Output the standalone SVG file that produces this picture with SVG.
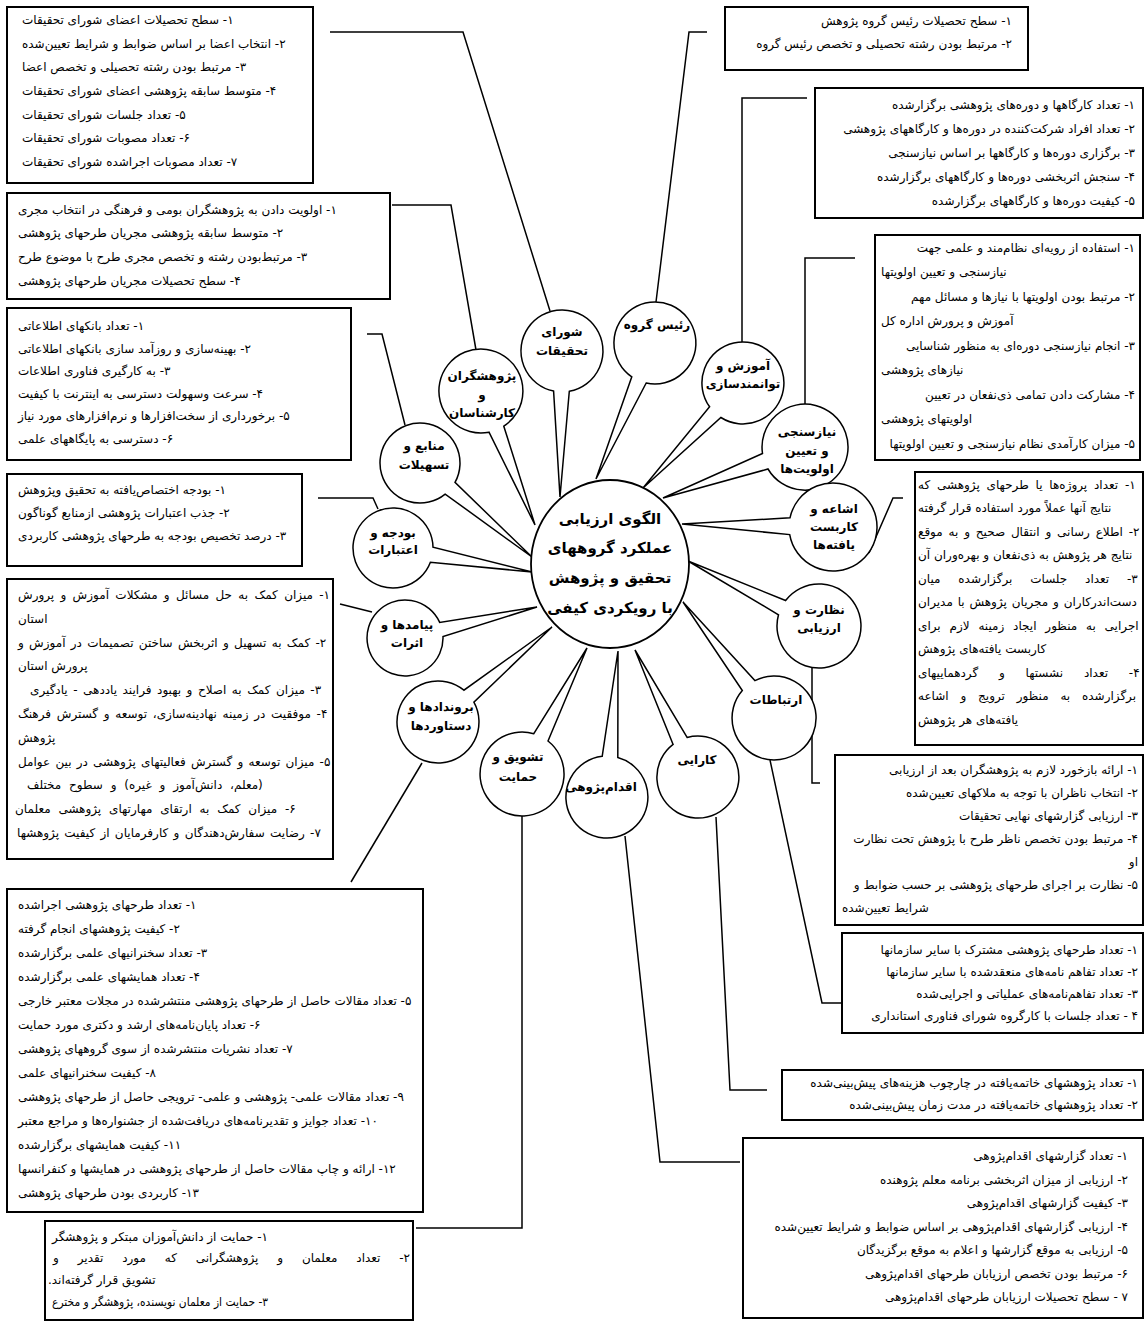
<svg xmlns="http://www.w3.org/2000/svg" width="1145" height="1328" viewBox="0 0 1145 1328">
<style>
.box{fill:#fff;stroke:#000;stroke-width:2}
.k{fill:none;stroke:#000;stroke-width:1.5}
.c{fill:#fff;stroke:#000;stroke-width:1.5}
.t{font-family:'DejaVu Sans',sans-serif;font-size:12px;fill:#000;direction:rtl}
.r{text-anchor:start}
.l{text-anchor:end}
.n{font-family:'DejaVu Sans',sans-serif;font-size:12px;font-weight:bold;text-anchor:middle;direction:rtl}
.m{font-family:'DejaVu Sans',sans-serif;font-size:15px;font-weight:bold;text-anchor:middle;direction:rtl}
</style>
<rect width="1145" height="1328" fill="#fff"/>
<g id="connectors">
<polyline class="k" points="330,32 463,32 550,311"/>
<polyline class="k" points="707,32 689,32 656,302"/>
<polyline class="k" points="392,205 451,205 476,350"/>
<polyline class="k" points="807,98 742,98 742,342"/>
<polyline class="k" points="367,334 382,334 405,425"/>
<polyline class="k" points="855,258 805,258 805,404"/>
<polyline class="k" points="318,498 373,498 378,509"/>
<polyline class="k" points="869,553 893,498 903,498"/>
<polyline class="k" points="340,604 372,612"/>
<polyline class="k" points="422,763 351,882"/>
<polyline class="k" points="522,816 522,1228 416,1228"/>
<polyline class="k" points="625,836 660,1162 740,1162"/>
<polyline class="k" points="716,817 730,1090 767,1090"/>
<polyline class="k" points="770,760 822,1003 842,1003"/>
<polyline class="k" points="812,667 812,783 820,783"/>
</g>
<g id="box-shora">
<rect class="box" x="7" y="7" width="306" height="176"/>
<text class="t l" x="22" y="24">۱- سطح تحصیلات اعضای شورای تحقیقات</text>
<text class="t l" x="22" y="48">۲- انتخاب اعضا بر اساس ضوابط و شرایط تعیین&#8204;شده</text>
<text class="t l" x="22" y="71">۳- مرتبط بودن رشته تحصیلی و تخصص اعضا</text>
<text class="t l" x="22" y="95">۴- متوسط سابقه پژوهشی اعضای شورای تحقیقات</text>
<text class="t l" x="22" y="119">۵- تعداد جلسات شورای تحقیقات</text>
<text class="t l" x="22" y="142">۶- تعداد مصوبات شورای تحقیقات</text>
<text class="t l" x="22" y="166">۷- تعداد مصوبات اجراشده شورای تحقیقات</text>
</g>
<g id="box-pazhooheshgaran">
<rect class="box" x="7" y="193" width="383" height="106"/>
<text class="t l" x="18" y="214">۱- اولویت دادن به پژوهشگران بومی و فرهنگی در انتخاب مجری</text>
<text class="t l" x="18" y="237">۲- متوسط سابقه پژوهشی مجریان طرحهای پژوهشی</text>
<text class="t l" x="18" y="261">۳- مرتبط&#8204;بودن رشته و تخصص مجری طرح با موضوع طرح</text>
<text class="t l" x="18" y="285">۴- سطح تحصیلات مجریان طرحهای پژوهشی</text>
</g>
<g id="box-manabe">
<rect class="box" x="7" y="308" width="344" height="152"/>
<text class="t l" x="18" y="330">۱- تعداد بانکهای اطلاعاتی</text>
<text class="t l" x="18" y="353">۲- بهینه&#8204;سازی و روزآمد سازی بانکهای اطلاعاتی</text>
<text class="t l" x="18" y="375">۳- به کارگیری فناوری اطلاعات</text>
<text class="t l" x="18" y="398">۴- سرعت وسهولت دسترسی به اینترنت با کیفیت</text>
<text class="t l" x="18" y="420">۵- برخورداری از سخت&#8204;افزارها و نرم&#8204;افزارهای مورد نیاز</text>
<text class="t l" x="18" y="443">۶- دسترسی به پایگاههای علمی</text>
</g>
<g id="box-budje">
<rect class="box" x="7" y="474" width="295" height="92"/>
<text class="t l" x="18" y="494">۱- بودجه اختصاص&#8204;یافته به تحقیق وپژوهش</text>
<text class="t l" x="18" y="517">۲- جذب اعتبارات پژوهشی ازمنابع گوناگون</text>
<text class="t l" x="18" y="540">۳- درصد تخصیص بودجه به طرحهای پژوهشی کاربردی</text>
</g>
<g id="box-payamad">
<rect class="box" x="7" y="579" width="326" height="280"/>
<text class="t l" x="18" y="599" style="word-spacing:2.5px">۱- میزان کمک به حل مسائل و مشکلات آموزش و پرورش</text>
<text class="t l" x="18" y="623">استان</text>
<text class="t l" x="18" y="647" style="word-spacing:1.5px">۲- کمک به تسهیل و اثربخش ساختن تصمیمات در آموزش و</text>
<text class="t l" x="18" y="670">پرورش استان</text>
<text class="t l" x="30" y="694" style="word-spacing:1.7px">۳- میزان کمک به اصلاح و بهبود فرایند یاددهی - یادگیری</text>
<text class="t l" x="18" y="718" style="word-spacing:1.9px">۴- موفقیت در زمینه نهادینه&#8204;سازی، توسعه و گسترش فرهنگ</text>
<text class="t l" x="18" y="742">پژوهش</text>
<text class="t l" x="18" y="766" style="word-spacing:1.4px">۵- میزان توسعه و گسترش فعالیتهای پژوهشی در بین عوامل</text>
<text class="t l" x="27" y="789" style="word-spacing:4px">(معلم، دانش&#8204;آموز و غیره) و سطوح مختلف</text>
<text class="t l" x="15" y="813" style="word-spacing:4px">۶- میزان کمک به ارتقای مهارتهای پژوهشی معلمان</text>
<text class="t l" x="17" y="837" style="word-spacing:1.5px">۷- رضایت سفارش&#8204;دهندگان و کارفرمایان از کیفیت پژوهشها</text>
</g>
<g id="box-borondad">
<rect class="box" x="7" y="889" width="416" height="323"/>
<text class="t l" x="18" y="909">۱- تعداد طرحهای پژوهشی اجراشده</text>
<text class="t l" x="18" y="933">۲- کیفیت پژوهشهای انجام گرفته</text>
<text class="t l" x="18" y="957">۳- تعداد سخنرانیهای علمی برگزارشده</text>
<text class="t l" x="18" y="981">۴- تعداد همایشهای علمی برگزارشده</text>
<text class="t l" x="18" y="1005">۵- تعداد مقالات حاصل از طرحهای پژوهشی منتشرشده در مجلات معتبر خارجی</text>
<text class="t l" x="18" y="1029">۶- تعداد پایان&#8204;نامه&#8204;های ارشد و دکتری مورد حمایت</text>
<text class="t l" x="18" y="1053">۷- تعداد نشریات منتشرشده از سوی گروههای پژوهشی</text>
<text class="t l" x="18" y="1077">۸- کیفیت سخنرانیهای علمی</text>
<text class="t l" x="18" y="1101">۹- تعداد مقالات علمی- پژوهشی و علمی- ترویجی حاصل از طرحهای پژوهشی</text>
<text class="t l" x="18" y="1125">۱۰- تعداد جوایز و تقدیرنامه&#8204;های دریافت&#8204;شده از جشنواره&#8204;ها و مراجع معتبر</text>
<text class="t l" x="18" y="1149">۱۱- کیفیت همایشهای برگزارشده</text>
<text class="t l" x="18" y="1173">۱۲- ارائه و چاپ مقالات حاصل از طرحهای پژوهشی در همایشها و کنفرانسها</text>
<text class="t l" x="18" y="1197">۱۳- کاربردی بودن طرحهای پژوهشی</text>
</g>
<g id="box-tashvigh">
<rect class="box" x="45" y="1221" width="368" height="99"/>
<text class="t r" x="268" y="1241">۱- حمایت از دانش&#8204;آموزان مبتکر و پژوهشگر</text>
<text class="t r" x="410" y="1262" style="word-spacing:15px">۲- تعداد معلمان و پژوهشگرانی که مورد تقدیر و</text>
<text class="t l" x="48" y="1284">تشویق قرار گرفته&#8204;اند.</text>
<text class="t l" x="52" y="1306" textLength="216" lengthAdjust="spacingAndGlyphs">۳- حمایت از معلمان نویسنده، پژوهشگر و مخترع</text>
</g>
<g id="box-raees">
<rect class="box" x="725" y="7" width="303" height="63"/>
<text class="t r" x="1012" y="25">۱- سطح تحصیلات رئیس گروه پژوهش</text>
<text class="t r" x="1012" y="48">۲- مرتبط بودن رشته تحصیلی و تخصص رئیس گروه</text>
</g>
<g id="box-amoozesh">
<rect class="box" x="815" y="88" width="328" height="130"/>
<text class="t r" x="1135" y="109">۱- تعداد کارگاهها و دوره&#8204;های پژوهشی برگزارشده</text>
<text class="t r" x="1135" y="133">۲- تعداد افراد شرکت&#8204;کننده در دوره&#8204;ها و کارگاههای پژوهشی</text>
<text class="t r" x="1135" y="157">۳- برگزاری دوره&#8204;ها و کارگاهها بر اساس نیازسنجی</text>
<text class="t r" x="1135" y="181">۴- سنجش اثربخشی دوره&#8204;ها و کارگاههای برگزارشده</text>
<text class="t r" x="1135" y="205">۵- کیفیت دوره&#8204;ها و کارگاههای برگزارشده</text>
</g>
<g id="box-niazsanji">
<rect class="box" x="875" y="235" width="265" height="225"/>
<text class="t r" x="1135" y="252">۱- استفاده از رویه&#8204;ای نظام&#8204;مند و علمی جهت</text>
<text class="t l" x="881" y="276">نیازسنجی و تعیین اولویتها</text>
<text class="t r" x="1135" y="301">۲- مرتبط بودن اولویتها با نیازها و مسائل مهم</text>
<text class="t l" x="881" y="325">آموزش و پرورش اداره کل</text>
<text class="t r" x="1135" y="350">۳- انجام نیازسنجی دوره&#8204;ای به منظور شناسایی</text>
<text class="t l" x="881" y="374">نیازهای پژوهشی</text>
<text class="t r" x="1135" y="399">۴- مشارکت دادن تمامی ذی&#8204;نفعان در تعیین</text>
<text class="t l" x="881" y="423">اولویتهای پژوهشی</text>
<text class="t r" x="1135" y="448">۵- میزان کارآمدی نظام نیازسنجی و تعیین اولویتها</text>
</g>
<g id="box-eshae">
<rect class="box" x="915" y="472" width="228" height="273"/>
<text class="t l" x="918" y="489" style="word-spacing:3px">۱- تعداد پروژه&#8204;ها یا طرحهای پژوهشی که</text>
<text class="t l" x="918" y="512">نتایج آنها عملاً مورد استفاده قرار گرفته</text>
<text class="t l" x="918" y="536" style="word-spacing:2px">۲- اطلاع رسانی و انتقال صحیح و به موقع</text>
<text class="t l" x="918" y="559">نتایج هر پژوهش به ذی&#8204;نفعان و بهره&#8204;وران آن</text>
<text class="t l" x="918" y="583" style="word-spacing:14px">۳- تعداد جلسات برگزارشده میان</text>
<text class="t l" x="918" y="606" style="word-spacing:1px">دست&#8204;اندرکاران و مجریان پژوهش با مدیران</text>
<text class="t l" x="918" y="630" style="word-spacing:5px">اجرایی به منظور ایجاد زمینه لازم برای</text>
<text class="t l" x="918" y="653">کاربست یافته&#8204;های پژوهش</text>
<text class="t l" x="918" y="677" style="word-spacing:17px">۴- تعداد نشستها و گردهماییهای</text>
<text class="t l" x="918" y="700" style="word-spacing:8px">برگزارشده به منظور ترویج و اشاعه</text>
<text class="t l" x="918" y="724">یافته&#8204;های هر پژوهش</text>
</g>
<g id="box-nezarat">
<rect class="box" x="835" y="755" width="308" height="170"/>
<text class="t r" x="1138" y="774">۱- ارائه بازخورد لازم به پژوهشگران بعد از ارزیابی</text>
<text class="t r" x="1138" y="797">۲- انتخاب ناظران با توجه به ملاکهای تعیین&#8204;شده</text>
<text class="t r" x="1138" y="820">۳- ارزیابی گزارشهای نهایی تحقیقات</text>
<text class="t r" x="1138" y="843">۴- مرتبط بودن تخصص ناظر طرح با پژوهش تحت نظارت</text>
<text class="t r" x="1138" y="866">او</text>
<text class="t r" x="1138" y="889">۵- نظارت بر اجرای طرحهای پژوهشی بر حسب ضوابط و</text>
<text class="t l" x="842" y="912">شرایط تعیین&#8204;شده</text>
</g>
<g id="box-ertebatat">
<rect class="box" x="842" y="933" width="301" height="100"/>
<text class="t r" x="1138" y="954">۱- تعداد طرحهای پژوهشی مشترک با سایر سازمانها</text>
<text class="t r" x="1138" y="976">۲- تعداد تفاهم نامه&#8204;های منعقدشده با سایر سازمانها</text>
<text class="t r" x="1138" y="998">۳- تعداد تفاهم&#8204;نامه&#8204;های عملیاتی و اجرایی&#8204;شده</text>
<text class="t r" x="1138" y="1020">۴ - تعداد جلسات با کارگروه شورای فناوری استانداری</text>
</g>
<g id="box-karaee">
<rect class="box" x="782" y="1070" width="361" height="50"/>
<text class="t r" x="1138" y="1087">۱- تعداد پژوهشهای خاتمه&#8204;یافته در چارچوب هزینه&#8204;های پیش&#8204;بینی&#8204;شده</text>
<text class="t r" x="1138" y="1109">۲- تعداد پژوهشهای خاتمه&#8204;یافته در مدت زمان پیش&#8204;بینی&#8204;شده</text>
</g>
<g id="box-eghdam">
<rect class="box" x="743" y="1138" width="400" height="180"/>
<text class="t r" x="1128" y="1160">۱- تعداد گزارشهای اقدام&#8204;پژوهی</text>
<text class="t r" x="1128" y="1184">۲- ارزیابی از میزان اثربخشی برنامه معلم پژوهنده</text>
<text class="t r" x="1128" y="1207">۳- کیفیت گزارشهای اقدام&#8204;پژوهی</text>
<text class="t r" x="1128" y="1231">۴- ارزیابی گزارشهای اقدام&#8204;پژوهی بر اساس ضوابط و شرایط تعیین&#8204;شده</text>
<text class="t r" x="1128" y="1254">۵- ارزیابی به موقع گزارشها و اعلام به موقع برگزیدگان</text>
<text class="t r" x="1128" y="1278">۶- مرتبط بودن تخصص ارزیابان طرحهای اقدام&#8204;پژوهی</text>
<text class="t r" x="1128" y="1301">۷ - سطح تحصیلات ارزیابان طرحهای اقدام&#8204;پژوهی</text>
</g>
<g id="node-shora">
<path class="c" d="M569.3,391.3 A41,41 0 1 0 553.6,391.1 L560,497 Z"/>
<text class="n" x="562" y="336">شورای</text>
<text class="n" x="562" y="355">تحقیقات</text>
</g>
<g id="node-raees">
<path class="c" d="M646.2,383 A41,41 0 1 0 631.8,376.8 L596,479 Z"/>
<text class="n" x="657" y="329">رئیس گروه</text>
</g>
<g id="node-pazhooheshgaran">
<path class="c" d="M503.8,426.2 A42,42 0 1 0 489,432.2 L535,525 Z"/>
<text class="n" x="482" y="380">پژوهشگران</text>
<text class="n" x="482" y="399">و</text>
<text class="n" x="482" y="417">کارشناسان</text>
</g>
<g id="node-amoozesh">
<path class="c" d="M720.9,417.5 A41,41 0 1 0 709.6,406.8 L643,488 Z"/>
<text class="n" x="743" y="370">آموزش و</text>
<text class="n" x="743" y="388">توانمندسازی</text>
</g>
<g id="node-manabe">
<path class="c" d="M455,482.4 A40,40 0 1 0 445.2,494.1 L532,557 Z"/>
<text class="n" x="424" y="450">منابع و</text>
<text class="n" x="424" y="469">تسهیلات</text>
</g>
<g id="node-niazsanji">
<path class="c" d="M768,469 A43,43 0 1 0 762.5,453.5 L663,498 Z"/>
<text class="n" x="807" y="436">نیازسنجی</text>
<text class="n" x="807" y="455">و تعیین</text>
<text class="n" x="807" y="473">اولویت&#8204;ها</text>
</g>
<g id="node-budje">
<path class="c" d="M433,547.2 A40,40 0 1 0 430.4,562.2 L532,572 Z"/>
<text class="n" x="393" y="537">بودجه و</text>
<text class="n" x="393" y="554">اعتبارات</text>
</g>
<g id="node-eshae">
<path class="c" d="M789.7,534.6 A44,44 0 1 0 790,517.8 L682,524 Z"/>
<text class="n" x="834" y="513">اشاعه و</text>
<text class="n" x="834" y="531">کاربست</text>
<text class="n" x="834" y="549">یافته&#8204;ها</text>
</g>
<g id="node-nezarat">
<path class="c" d="M778.5,614.8 A42,42 0 1 0 785.6,600.5 L688,561 Z"/>
<text class="n" x="819" y="614">نظارت و</text>
<text class="n" x="819" y="632">ارزیابی</text>
</g>
<g id="node-ertebatat">
<path class="c" d="M742.3,690.5 A42,42 0 1 0 754.9,680.6 L683,602 Z"/>
<text class="n" x="776" y="704">ارتباطات</text>
</g>
<g id="node-karaee">
<path class="c" d="M673.1,744.4 A41,41 0 1 0 687.1,737.5 L635,650 Z"/>
<text class="n" x="697" y="764">کارایی</text>
</g>
<g id="node-eghdam">
<path class="c" d="M602.2,756.3 A41,41 0 1 0 617.8,757.5 L618,651 Z"/>
<text class="n" x="601" y="791">اقدام&#8204;پژوهی</text>
</g>
<g id="node-tashvigh">
<path class="c" d="M533.8,733.7 A42,42 0 1 0 548,741 L587,648 Z"/>
<text class="n" x="518" y="761">تشویق و</text>
<text class="n" x="518" y="781">حمایت</text>
</g>
<g id="node-borondad">
<path class="c" d="M463.9,690.2 A41,41 0 1 0 473.9,702.2 L552,627 Z"/>
<text class="n" x="441" y="711">بروندادها و</text>
<text class="n" x="441" y="730">دستاوردها</text>
</g>
<g id="node-payamad">
<path class="c" d="M439.7,622.4 A38,38 0 1 0 443,636.5 L537,607 Z"/>
<text class="n" x="407" y="629">پیامدها و</text>
<text class="n" x="407" y="647">اثرات</text>
</g>
<g id="node-center">
<ellipse cx="610" cy="564" rx="79" ry="84" fill="#fff" stroke="#000" stroke-width="1.8"/>
<text class="m" x="610" y="524">الگوی ارزیابی</text>
<text class="m" x="610" y="553">عملکرد گروههای</text>
<text class="m" x="610" y="583">تحقیق و پژوهش</text>
<text class="m" x="610" y="613">با رویکردی کیفی</text>
</g>
</svg>
